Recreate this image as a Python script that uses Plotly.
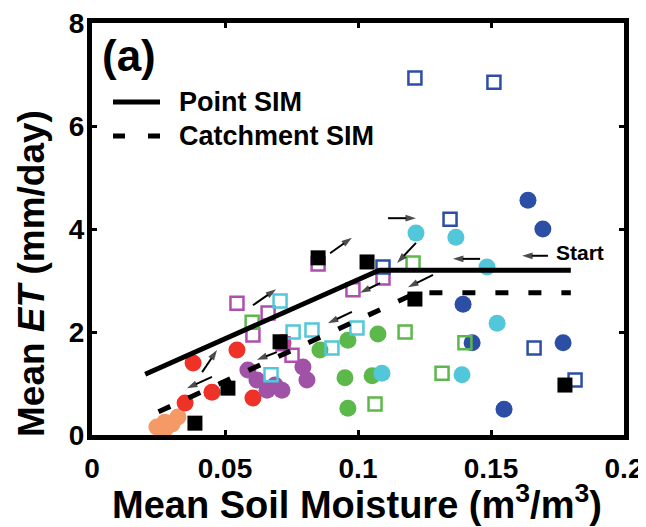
import plotly.graph_objects as go

# ---- data ----
orange_x = [0.0244, 0.0278, 0.0301, 0.0323, 0.0274]
orange_y = [0.155, 0.136, 0.214, 0.35, 0.25]

red_x = [0.035, 0.038, 0.0451, 0.0545, 0.0605, 0.0718]
red_y = [0.62, 1.40, 0.83, 1.65, 0.72, 1.79]

purple_x = [0.0586, 0.062, 0.0658, 0.0714, 0.0793, 0.0808, 0.0688]
purple_y = [1.26, 1.07, 0.87, 0.87, 1.32, 1.07, 0.97]

green_x = [0.0857, 0.0962, 0.1075, 0.0951, 0.1053, 0.0962]
green_y = [1.65, 1.84, 1.96, 1.11, 1.15, 0.52]

cyan_x = [0.1218, 0.1368, 0.1485, 0.1523, 0.1391, 0.109]
cyan_y = [3.92, 3.84, 3.26, 2.17, 1.17, 1.20]

blue_x = [0.1639, 0.1695, 0.1395, 0.1429, 0.1771, 0.1549]
blue_y = [4.56, 4.00, 2.54, 1.79, 1.79, 0.50]

sq_blue_x = [0.1214, 0.1511, 0.1346, 0.1662, 0.1816, 0.1094]
sq_blue_y = [6.93, 6.85, 4.19, 1.69, 1.07, 3.26]

sq_mag_x = [0.085, 0.1094, 0.0981, 0.0545, 0.0662, 0.0605, 0.0718, 0.0752]
sq_mag_y = [3.32, 3.05, 2.82, 2.56, 2.37, 1.94, 1.77, 1.55]

sq_cyan_x = [0.0707, 0.0756, 0.0827, 0.0996, 0.0902, 0.0673]
sq_cyan_y = [2.60, 2.00, 2.04, 2.08, 1.69, 1.17]

sq_green_x = [0.1207, 0.1177, 0.1402, 0.1316, 0.1064, 0.0602]
sq_green_y = [3.34, 2.00, 1.79, 1.20, 0.60, 2.19]

black_x = [0.085, 0.1034, 0.1214, 0.0511, 0.0387, 0.0707, 0.1778]
black_y = [3.44, 3.36, 2.64, 0.91, 0.23, 1.81, 0.97]

point_sim_x = [0.02, 0.108, 0.18]
point_sim_y = [1.18, 3.20, 3.20]
catch_sim_x = [0.025, 0.122, 0.18]
catch_sim_y = [0.45, 2.76, 2.76]

# arrows: tail -> head
arrow_tail_x = [0.0895, 0.1113, 0.1218, 0.1459, 0.1714, 0.1282, 0.1083, 0.0977, 0.0605, 0.0414, 0.0451, 0.0695]
arrow_tail_y = [3.53, 4.21, 3.73, 3.42, 3.48, 3.11, 2.95, 2.39, 2.52, 1.22, 1.13, 1.61]
arrow_head_x = [0.0977, 0.1218, 0.1147, 0.1357, 0.1617, 0.1188, 0.1008, 0.0887, 0.0692, 0.047, 0.0357, 0.062]
arrow_head_y = [3.83, 4.21, 3.34, 3.42, 3.48, 2.87, 2.76, 2.17, 2.83, 1.65, 0.91, 1.46]

x_ticks = [0, 0.05, 0.1, 0.15, 0.2]
x_ticklabels = ["0", "0.05", "0.1", "0.15", "0.2"]
y_ticks = [0, 2, 4, 6, 8]
y_ticklabels = ["0", "2", "4", "6", "8"]

FONT = "Liberation Sans, Arial, Helvetica, sans-serif"

fig = go.Figure()

def circles(x, y, color):
    fig.add_trace(go.Scatter(x=x, y=y, mode="markers", showlegend=False, hoverinfo="skip",
                             marker=dict(symbol="circle", size=17, color=color, line=dict(width=0))))

def open_squares(x, y, color):
    fig.add_trace(go.Scatter(x=x, y=y, mode="markers", showlegend=False, hoverinfo="skip",
                             marker=dict(symbol="square-open", size=13, color=color, line=dict(width=2.5, color=color))))

circles(orange_x, orange_y, "#F59A66")
circles(red_x, red_y, "#EE3227")
circles(purple_x, purple_y, "#A053A6")
circles(green_x, green_y, "#5CB84A")
circles(cyan_x, cyan_y, "#52C7DA")
circles(blue_x, blue_y, "#2C4FA5")

open_squares(sq_mag_x, sq_mag_y, "#AE4FAE")
open_squares(sq_cyan_x, sq_cyan_y, "#52C7DA")
open_squares(sq_green_x, sq_green_y, "#5CB84A")
open_squares(sq_blue_x, sq_blue_y, "#2C4FA5")

fig.add_trace(go.Scatter(x=point_sim_x, y=point_sim_y, mode="lines", name="Point SIM", showlegend=False,
                         line=dict(color="black", width=5), hoverinfo="skip"))
fig.add_trace(go.Scatter(x=catch_sim_x, y=catch_sim_y, mode="lines", name="Catchment SIM", showlegend=False,
                         line=dict(color="black", width=5, dash="13px,20px"), hoverinfo="skip"))

fig.add_trace(go.Scatter(x=black_x, y=black_y, mode="markers", showlegend=False, hoverinfo="skip",
                         marker=dict(symbol="square", size=15, color="black", line=dict(width=0))))

# small direction arrows
for tx, ty, hx, hy in zip(arrow_tail_x, arrow_tail_y, arrow_head_x, arrow_head_y):
    fig.add_trace(go.Scatter(x=[tx, hx], y=[ty, hy], mode="lines+markers", showlegend=False,
                             hoverinfo="skip", line=dict(color="black", width=2),
                             marker=dict(symbol=["circle", "arrow"], size=[0, 11], color="black",
                                         angleref="previous", line=dict(width=0))))

# texts inside plot
fig.add_annotation(x=0.1833, y=3.55, xref="x", yref="y", text="<b>Start</b>", showarrow=False,
                   font=dict(size=21, color="black", family=FONT), xanchor="center", yanchor="middle")
fig.add_annotation(x=0.0138, y=7.36, xref="x", yref="y", text="<b>(a)</b>", showarrow=False,
                   font=dict(size=44, color="black", family=FONT), xanchor="center", yanchor="middle")

# page layout (page pixels); the page body adds an 8px offset, so the figure is 8px smaller
OFF = 8
PAGE_W, PAGE_H = 646, 527
L, R, T, B = 92, 624, 23, 435
def px(xp): return (xp - L) / (R - L)
def py(yp): return (B - yp) / (B - T)

# legend (drawn in paper coordinates)
fig.add_shape(type="line", xref="paper", yref="paper", x0=px(113), x1=px(160), y0=py(102), y1=py(102),
              line=dict(color="black", width=5))
fig.add_shape(type="line", xref="paper", yref="paper", x0=px(113), x1=px(161), y0=py(136), y1=py(136),
              line=dict(color="black", width=5, dash="12px,23px"))
fig.add_annotation(x=px(177), y=py(102), xref="paper", yref="paper", text="<b>Point SIM</b>",
                   showarrow=False, xanchor="left", yanchor="middle",
                   font=dict(size=27, family=FONT, color="black"))
fig.add_annotation(x=px(177), y=py(136), xref="paper", yref="paper", text="<b>Catchment SIM</b>",
                   showarrow=False, xanchor="left", yanchor="middle",
                   font=dict(size=27, family=FONT, color="black"))

# axis titles
fig.add_annotation(x=px(357), y=py(502), xref="paper", yref="paper",
                   text="<b>Mean Soil Moisture (m<sup>3</sup>/m<sup>3</sup>)</b>",
                   showarrow=False, xanchor="center", yanchor="middle",
                   font=dict(size=38, family=FONT, color="black"))
fig.add_annotation(x=px(31), y=py(274), xref="paper", yref="paper",
                   text="<b>Mean <i>ET</i> (mm/day)</b>", textangle=-90,
                   showarrow=False, xanchor="center", yanchor="middle",
                   font=dict(size=37, family=FONT, color="black"))

fig.update_layout(
    width=PAGE_W - OFF, height=PAGE_H - OFF,
    margin=dict(l=L - OFF, r=PAGE_W - R, t=T - OFF, b=PAGE_H - B, autoexpand=False),
    paper_bgcolor="white", plot_bgcolor="white",
    font=dict(family=FONT, color="black"),
    showlegend=False,
    xaxis=dict(range=[0, 0.2], tickvals=x_ticks, ticktext=["<b>%s</b>" % t for t in x_ticklabels],
               showgrid=False, zeroline=False, showline=True, linewidth=5, linecolor="black",
               mirror="ticks", ticks="inside", ticklen=5, tickwidth=3, tickcolor="black",
               automargin=False, ticklabelstandoff=4, ticklabeloverflow="allow",
               tickfont=dict(size=28, family=FONT, color="black")),
    yaxis=dict(range=[0, 8], tickvals=y_ticks, ticktext=["<b>%s</b>" % t for t in y_ticklabels],
               showgrid=False, zeroline=False, showline=True, linewidth=5, linecolor="black",
               mirror="ticks", ticks="inside", ticklen=5, tickwidth=3, tickcolor="black",
               automargin=False, ticklabeloverflow="allow", ticklabelstandoff=-3,
               tickfont=dict(size=28, family=FONT, color="black")),
)

fig.write_html("out.html")
